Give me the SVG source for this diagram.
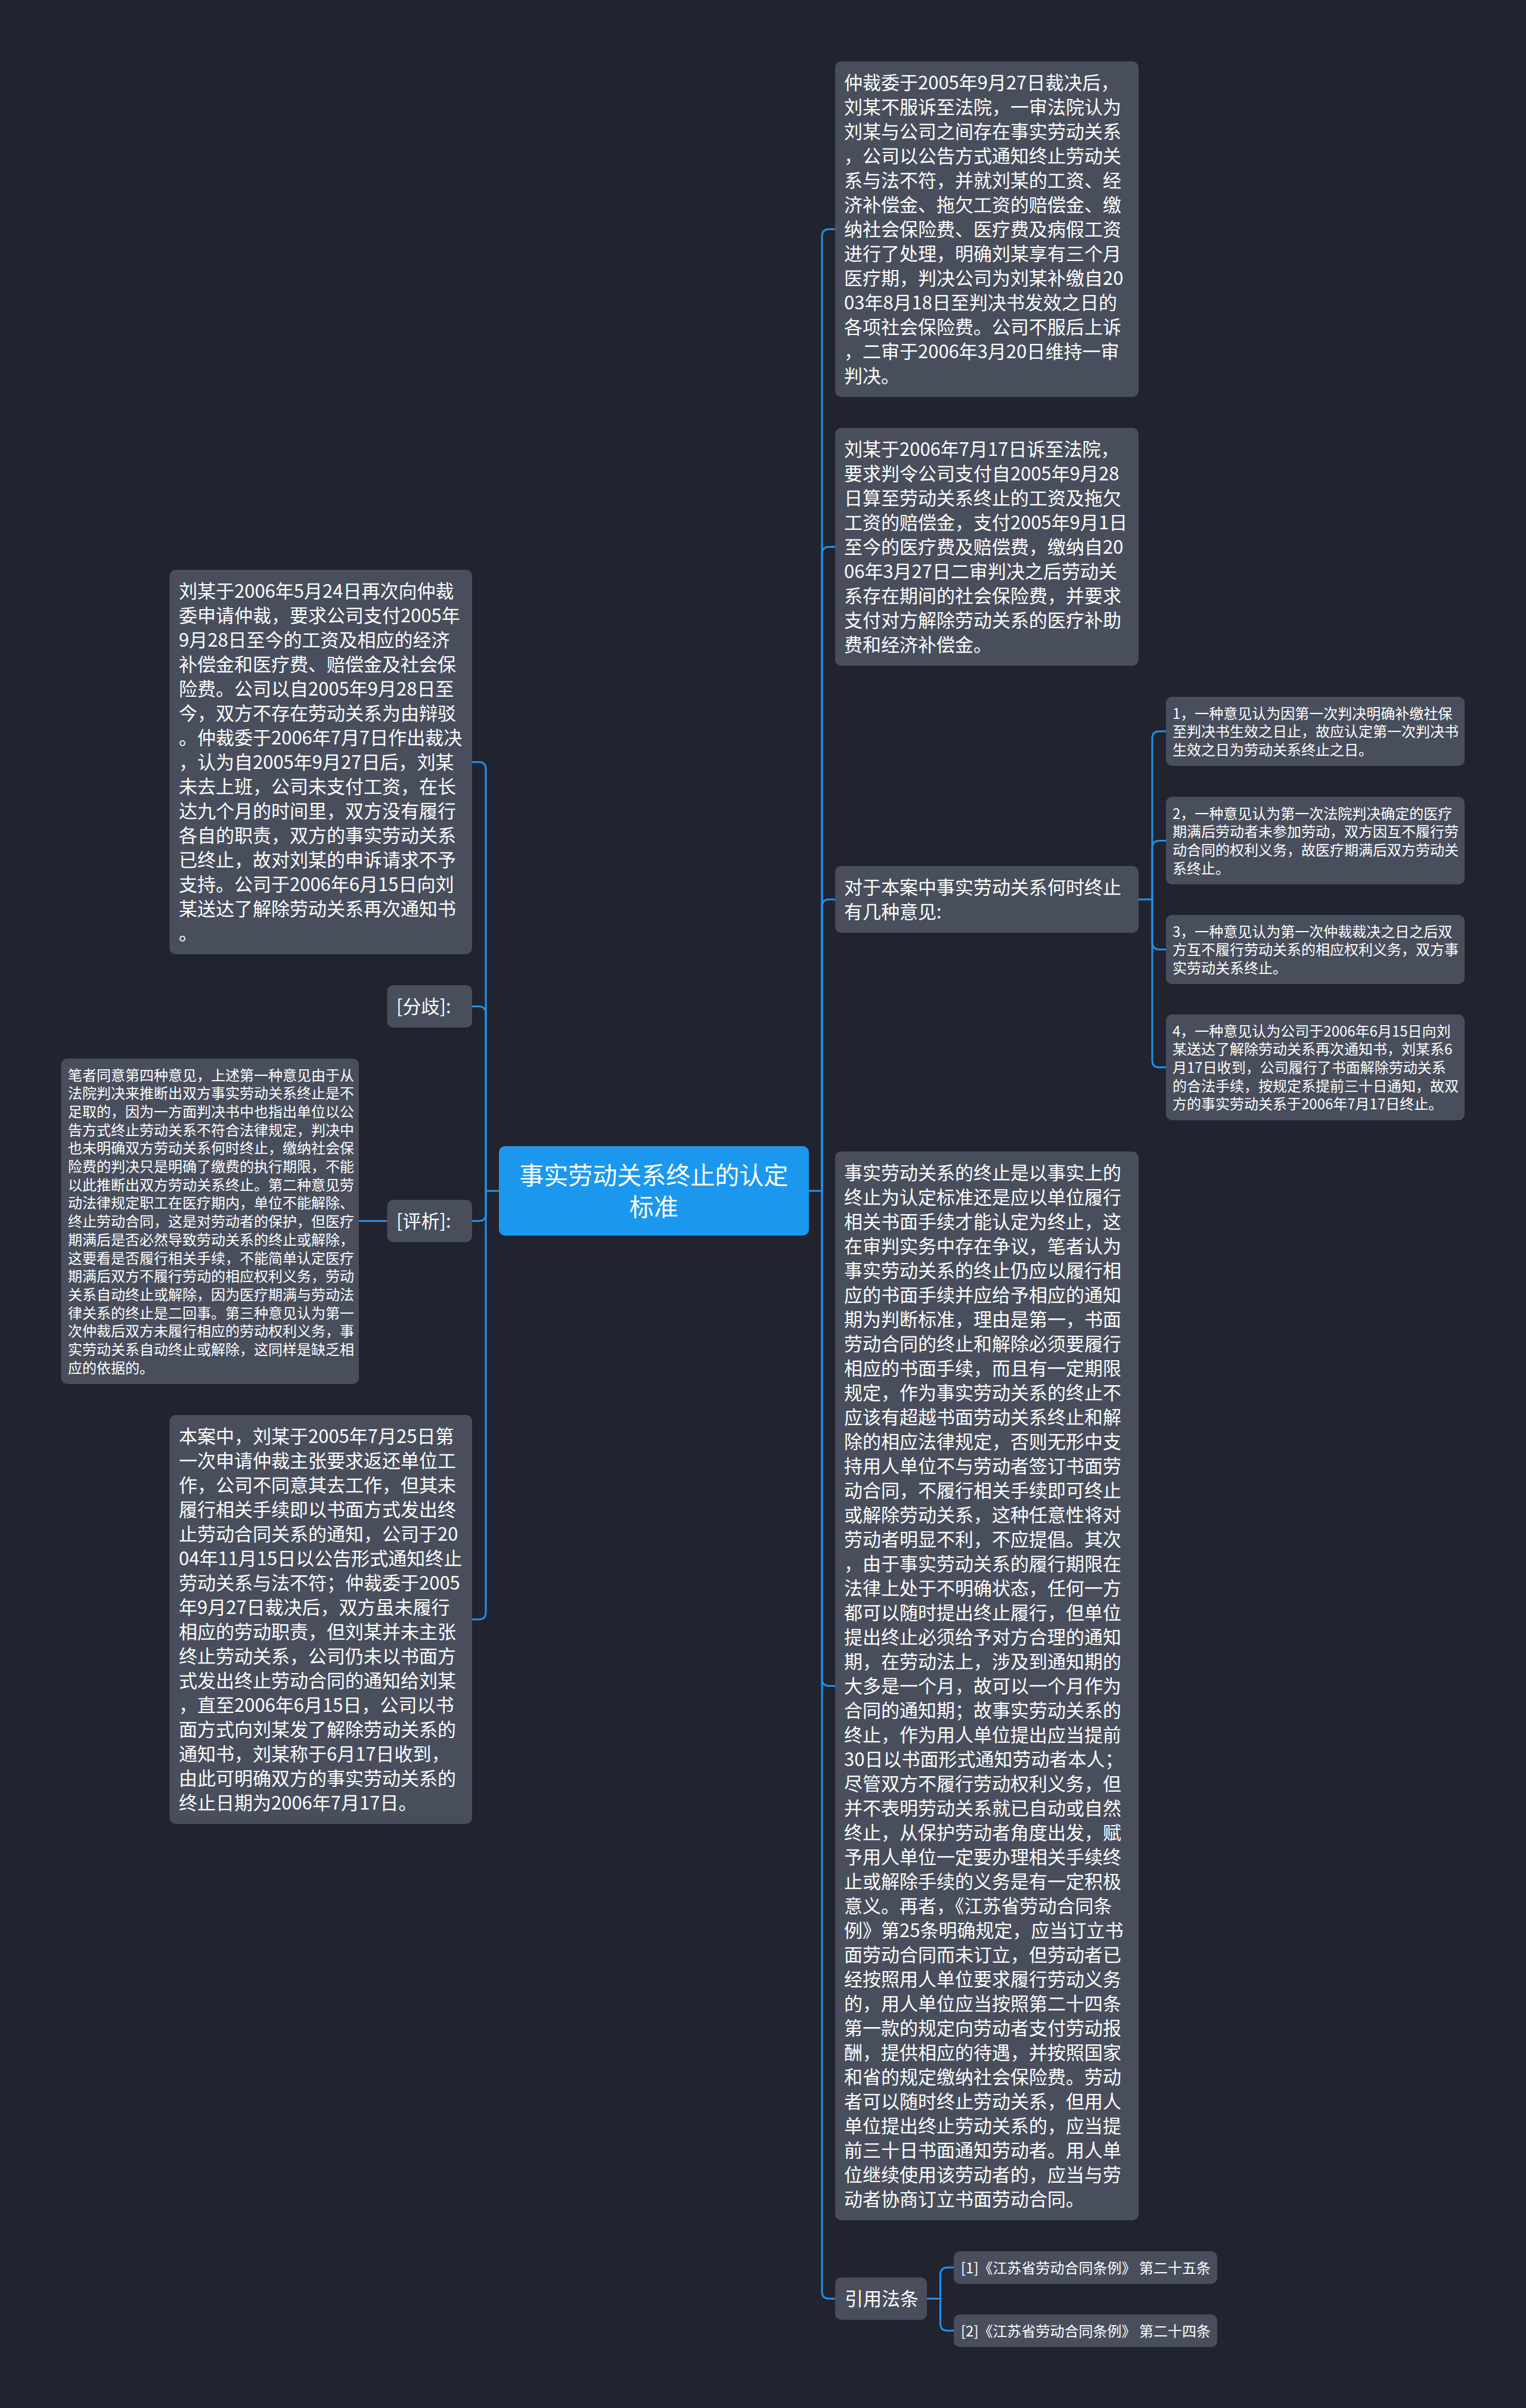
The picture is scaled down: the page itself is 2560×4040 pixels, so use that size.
<svg xmlns="http://www.w3.org/2000/svg" width="2560" height="4040" viewBox="0 0 2560 4040">
<style>
.n{fill:#484e5c}
.c{fill:#1b98ee}
.t{font-family:"Noto Sans CJK SC","Noto Sans",sans-serif;fill:#ffffff;font-size:31px}
.s{font-size:24px}
.m{font-size:41px;text-anchor:middle}
.l{fill:none;stroke:#2490e8;stroke-width:3;stroke-linecap:round}
</style>
<rect x="0" y="0" width="2560" height="4040" fill="#21242e"/>
<g id="connectors">
<path class="l" d="M1356 1998 H1379"/>
<path class="l" d="M1379 1998 V396.5 Q1379 384.5 1391 384.5 H1401"/>
<path class="l" d="M1379 1998 V929.5 Q1379 917.5 1391 917.5 H1401"/>
<path class="l" d="M1379 1998 V1521 Q1379 1509 1391 1509 H1401"/>
<path class="l" d="M1379 1998 V2816.5 Q1379 2828.5 1391 2828.5 H1401"/>
<path class="l" d="M1379 1998 V3844.5 Q1379 3856.5 1391 3856.5 H1401"/>
<path class="l" d="M837 1998 H815"/>
<path class="l" d="M815 1998 V1290.5 Q815 1278.5 803 1278.5 H792"/>
<path class="l" d="M815 1998 V1700.5 Q815 1688.5 803 1688.5 H792"/>
<path class="l" d="M815 1998 V2036.5 Q815 2048.5 803 2048.5 H792"/>
<path class="l" d="M815 1998 V2705 Q815 2717 803 2717 H792"/>
<path class="l" d="M649 2048.5 H602"/>
<path class="l" d="M1910 1509 H1933"/>
<path class="l" d="M1933 1509 V1239 Q1933 1227 1945 1227 H1956"/>
<path class="l" d="M1933 1509 V1422.4 Q1933 1410.4 1945 1410.4 H1956"/>
<path class="l" d="M1933 1509 V1581 Q1933 1593 1945 1593 H1956"/>
<path class="l" d="M1933 1509 V1778.8 Q1933 1790.8 1945 1790.8 H1956"/>
<path class="l" d="M1555 3856.5 H1577.5"/>
<path class="l" d="M1577.5 3856.5 V3816.3 Q1577.5 3804.3 1589.5 3804.3 H1600"/>
<path class="l" d="M1577.5 3856.5 V3898.3 Q1577.5 3910.3 1589.5 3910.3 H1600"/>
</g>
<g id="root">
<rect class="c" x="837" y="1923" width="520" height="150" rx="10"/>
<text class="t m"><tspan x="1096.7" y="1986.6">事实劳动关系终止的认定</tspan><tspan x="1096.7" y="2039.9">标准</tspan></text>
</g>
<g id="nodeA">
<rect class="n" x="1401" y="103" width="509" height="563" rx="10"/>
<text class="t"><tspan x="1416" y="150.3">仲裁委于2005年9月27日裁决后，</tspan><tspan x="1416" y="191.3">刘某不服诉至法院，一审法院认为</tspan><tspan x="1416" y="232.3">刘某与公司之间存在事实劳动关系</tspan><tspan x="1416" y="273.3">，公司以公告方式通知终止劳动关</tspan><tspan x="1416" y="314.3">系与法不符，并就刘某的工资、经</tspan><tspan x="1416" y="355.3">济补偿金、拖欠工资的赔偿金、缴</tspan><tspan x="1416" y="396.3">纳社会保险费、医疗费及病假工资</tspan><tspan x="1416" y="437.3">进行了处理，明确刘某享有三个月</tspan><tspan x="1416" y="478.3">医疗期，判决公司为刘某补缴自20</tspan><tspan x="1416" y="519.3">03年8月18日至判决书发效之日的</tspan><tspan x="1416" y="560.3">各项社会保险费。公司不服后上诉</tspan><tspan x="1416" y="601.3">，二审于2006年3月20日维持一审</tspan><tspan x="1416" y="642.3">判决。</tspan></text>
</g>
<g id="nodeB">
<rect class="n" x="1401" y="718" width="509" height="399" rx="10"/>
<text class="t"><tspan x="1416" y="765.3">刘某于2006年7月17日诉至法院，</tspan><tspan x="1416" y="806.3">要求判令公司支付自2005年9月28</tspan><tspan x="1416" y="847.3">日算至劳动关系终止的工资及拖欠</tspan><tspan x="1416" y="888.3">工资的赔偿金，支付2005年9月1日</tspan><tspan x="1416" y="929.3">至今的医疗费及赔偿费，缴纳自20</tspan><tspan x="1416" y="970.3">06年3月27日二审判决之后劳动关</tspan><tspan x="1416" y="1011.3">系存在期间的社会保险费，并要求</tspan><tspan x="1416" y="1052.3">支付对方解除劳动关系的医疗补助</tspan><tspan x="1416" y="1093.3">费和经济补偿金。</tspan></text>
</g>
<g id="nodeK">
<rect class="n" x="1401" y="1453" width="509" height="112" rx="10"/>
<text class="t"><tspan x="1416" y="1500.3">对于本案中事实劳动关系何时终止</tspan><tspan x="1416" y="1541.3">有几种意见:</tspan></text>
</g>
<g id="nodeD1">
<rect class="n" x="1956" y="1169" width="501" height="116" rx="10"/>
<text class="t s"><tspan x="1967" y="1205.5">1，一种意见认为因第一次判决明确补缴社保</tspan><tspan x="1967" y="1236.2">至判决书生效之日止，故应认定第一次判决书</tspan><tspan x="1967" y="1266.9">生效之日为劳动关系终止之日。</tspan></text>
</g>
<g id="nodeD2">
<rect class="n" x="1956" y="1337" width="501" height="146.8" rx="10"/>
<text class="t s"><tspan x="1967" y="1373.5">2，一种意见认为第一次法院判决确定的医疗</tspan><tspan x="1967" y="1404.2">期满后劳动者未参加劳动，双方因互不履行劳</tspan><tspan x="1967" y="1434.9">动合同的权利义务，故医疗期满后双方劳动关</tspan><tspan x="1967" y="1465.6">系终止。</tspan></text>
</g>
<g id="nodeD3">
<rect class="n" x="1956" y="1535" width="501" height="116" rx="10"/>
<text class="t s"><tspan x="1967" y="1571.5">3，一种意见认为第一次仲裁裁决之日之后双</tspan><tspan x="1967" y="1602.2">方互不履行劳动关系的相应权利义务，双方事</tspan><tspan x="1967" y="1632.9">实劳动关系终止。</tspan></text>
</g>
<g id="nodeD4">
<rect class="n" x="1956" y="1702" width="501" height="177.5" rx="10"/>
<text class="t s"><tspan x="1967" y="1738.5">4，一种意见认为公司于2006年6月15日向刘</tspan><tspan x="1967" y="1769.2">某送达了解除劳动关系再次通知书，刘某系6</tspan><tspan x="1967" y="1799.9">月17日收到，公司履行了书面解除劳动关系</tspan><tspan x="1967" y="1830.6">的合法手续，按规定系提前三十日通知，故双</tspan><tspan x="1967" y="1861.3">方的事实劳动关系于2006年7月17日终止。</tspan></text>
</g>
<g id="nodeJ">
<rect class="n" x="1401" y="1932" width="509" height="1793" rx="10"/>
<text class="t"><tspan x="1416" y="1979.3">事实劳动关系的终止是以事实上的</tspan><tspan x="1416" y="2020.3">终止为认定标准还是应以单位履行</tspan><tspan x="1416" y="2061.3">相关书面手续才能认定为终止，这</tspan><tspan x="1416" y="2102.3">在审判实务中存在争议，笔者认为</tspan><tspan x="1416" y="2143.3">事实劳动关系的终止仍应以履行相</tspan><tspan x="1416" y="2184.3">应的书面手续并应给予相应的通知</tspan><tspan x="1416" y="2225.3">期为判断标准，理由是第一，书面</tspan><tspan x="1416" y="2266.3">劳动合同的终止和解除必须要履行</tspan><tspan x="1416" y="2307.3">相应的书面手续，而且有一定期限</tspan><tspan x="1416" y="2348.3">规定，作为事实劳动关系的终止不</tspan><tspan x="1416" y="2389.3">应该有超越书面劳动关系终止和解</tspan><tspan x="1416" y="2430.3">除的相应法律规定，否则无形中支</tspan><tspan x="1416" y="2471.3">持用人单位不与劳动者签订书面劳</tspan><tspan x="1416" y="2512.3">动合同，不履行相关手续即可终止</tspan><tspan x="1416" y="2553.3">或解除劳动关系，这种任意性将对</tspan><tspan x="1416" y="2594.3">劳动者明显不利，不应提倡。其次</tspan><tspan x="1416" y="2635.3">，由于事实劳动关系的履行期限在</tspan><tspan x="1416" y="2676.3">法律上处于不明确状态，任何一方</tspan><tspan x="1416" y="2717.3">都可以随时提出终止履行，但单位</tspan><tspan x="1416" y="2758.3">提出终止必须给予对方合理的通知</tspan><tspan x="1416" y="2799.3">期，在劳动法上，涉及到通知期的</tspan><tspan x="1416" y="2840.3">大多是一个月，故可以一个月作为</tspan><tspan x="1416" y="2881.3">合同的通知期；故事实劳动关系的</tspan><tspan x="1416" y="2922.3">终止，作为用人单位提出应当提前</tspan><tspan x="1416" y="2963.3">30日以书面形式通知劳动者本人；</tspan><tspan x="1416" y="3004.3">尽管双方不履行劳动权利义务，但</tspan><tspan x="1416" y="3045.3">并不表明劳动关系就已自动或自然</tspan><tspan x="1416" y="3086.3">终止，从保护劳动者角度出发，赋</tspan><tspan x="1416" y="3127.3">予用人单位一定要办理相关手续终</tspan><tspan x="1416" y="3168.3">止或解除手续的义务是有一定积极</tspan><tspan x="1416" y="3209.3">意义。再者，《江苏省劳动合同条</tspan><tspan x="1416" y="3250.3">例》第25条明确规定，应当订立书</tspan><tspan x="1416" y="3291.3">面劳动合同而未订立，但劳动者已</tspan><tspan x="1416" y="3332.3">经按照用人单位要求履行劳动义务</tspan><tspan x="1416" y="3373.3">的，用人单位应当按照第二十四条</tspan><tspan x="1416" y="3414.3">第一款的规定向劳动者支付劳动报</tspan><tspan x="1416" y="3455.3">酬，提供相应的待遇，并按照国家</tspan><tspan x="1416" y="3496.3">和省的规定缴纳社会保险费。劳动</tspan><tspan x="1416" y="3537.3">者可以随时终止劳动关系，但用人</tspan><tspan x="1416" y="3578.3">单位提出终止劳动关系的，应当提</tspan><tspan x="1416" y="3619.3">前三十日书面通知劳动者。用人单</tspan><tspan x="1416" y="3660.3">位继续使用该劳动者的，应当与劳</tspan><tspan x="1416" y="3701.3">动者协商订立书面劳动合同。</tspan></text>
</g>
<g id="nodeL">
<rect class="n" x="1401" y="3821" width="154" height="71" rx="10"/>
<text class="t"><tspan x="1417" y="3868.3">引用法条</tspan></text>
</g>
<g id="nodeM1">
<rect class="n" x="1600" y="3777" width="442" height="54.7" rx="10"/>
<text class="t s"><tspan x="1612" y="3813.5">[1]《江苏省劳动合同条例》 第二十五条</tspan></text>
</g>
<g id="nodeM2">
<rect class="n" x="1600" y="3883" width="442" height="54.7" rx="10"/>
<text class="t s"><tspan x="1612" y="3919.5">[2]《江苏省劳动合同条例》 第二十四条</tspan></text>
</g>
<g id="nodeC">
<rect class="n" x="284.5" y="956" width="507.5" height="645" rx="10"/>
<text class="t"><tspan x="300" y="1003.3">刘某于2006年5月24日再次向仲裁</tspan><tspan x="300" y="1044.3">委申请仲裁，要求公司支付2005年</tspan><tspan x="300" y="1085.3">9月28日至今的工资及相应的经济</tspan><tspan x="300" y="1126.3">补偿金和医疗费、赔偿金及社会保</tspan><tspan x="300" y="1167.3">险费。公司以自2005年9月28日至</tspan><tspan x="300" y="1208.3">今，双方不存在劳动关系为由辩驳</tspan><tspan x="300" y="1249.3">。仲裁委于2006年7月7日作出裁决</tspan><tspan x="300" y="1290.3">，认为自2005年9月27日后，刘某</tspan><tspan x="300" y="1331.3">未去上班，公司未支付工资，在长</tspan><tspan x="300" y="1372.3">达九个月的时间里，双方没有履行</tspan><tspan x="300" y="1413.3">各自的职责，双方的事实劳动关系</tspan><tspan x="300" y="1454.3">已终止，故对刘某的申诉请求不予</tspan><tspan x="300" y="1495.3">支持。公司于2006年6月15日向刘</tspan><tspan x="300" y="1536.3">某送达了解除劳动关系再次通知书</tspan><tspan x="300" y="1577.3">。</tspan></text>
</g>
<g id="nodeG">
<rect class="n" x="649.5" y="1653" width="142.5" height="71" rx="10"/>
<text class="t"><tspan x="665" y="1700.3">[分歧]:</tspan></text>
</g>
<g id="nodeH">
<rect class="n" x="649.5" y="2013" width="142.5" height="71" rx="10"/>
<text class="t"><tspan x="665" y="2060.3">[评析]:</tspan></text>
</g>
<g id="nodeE">
<rect class="n" x="102.5" y="1776" width="499.5" height="546" rx="10"/>
<text class="t s"><tspan x="114" y="1812.5">笔者同意第四种意见，上述第一种意见由于从</tspan><tspan x="114" y="1843.2">法院判决来推断出双方事实劳动关系终止是不</tspan><tspan x="114" y="1873.9">足取的，因为一方面判决书中也指出单位以公</tspan><tspan x="114" y="1904.6">告方式终止劳动关系不符合法律规定，判决中</tspan><tspan x="114" y="1935.3">也未明确双方劳动关系何时终止，缴纳社会保</tspan><tspan x="114" y="1966">险费的判决只是明确了缴费的执行期限，不能</tspan><tspan x="114" y="1996.7">以此推断出双方劳动关系终止。第二种意见劳</tspan><tspan x="114" y="2027.4">动法律规定职工在医疗期内，单位不能解除、</tspan><tspan x="114" y="2058.1">终止劳动合同，这是对劳动者的保护，但医疗</tspan><tspan x="114" y="2088.8">期满后是否必然导致劳动关系的终止或解除，</tspan><tspan x="114" y="2119.5">这要看是否履行相关手续，不能简单认定医疗</tspan><tspan x="114" y="2150.2">期满后双方不履行劳动的相应权利义务，劳动</tspan><tspan x="114" y="2180.9">关系自动终止或解除，因为医疗期满与劳动法</tspan><tspan x="114" y="2211.6">律关系的终止是二回事。第三种意见认为第一</tspan><tspan x="114" y="2242.3">次仲裁后双方未履行相应的劳动权利义务，事</tspan><tspan x="114" y="2273">实劳动关系自动终止或解除，这同样是缺乏相</tspan><tspan x="114" y="2303.7">应的依据的。</tspan></text>
</g>
<g id="nodeI">
<rect class="n" x="284.5" y="2374" width="507.5" height="686" rx="10"/>
<text class="t"><tspan x="300" y="2421.3">本案中，刘某于2005年7月25日第</tspan><tspan x="300" y="2462.3">一次申请仲裁主张要求返还单位工</tspan><tspan x="300" y="2503.3">作，公司不同意其去工作，但其未</tspan><tspan x="300" y="2544.3">履行相关手续即以书面方式发出终</tspan><tspan x="300" y="2585.3">止劳动合同关系的通知，公司于20</tspan><tspan x="300" y="2626.3">04年11月15日以公告形式通知终止</tspan><tspan x="300" y="2667.3">劳动关系与法不符；仲裁委于2005</tspan><tspan x="300" y="2708.3">年9月27日裁决后，双方虽未履行</tspan><tspan x="300" y="2749.3">相应的劳动职责，但刘某并未主张</tspan><tspan x="300" y="2790.3">终止劳动关系，公司仍未以书面方</tspan><tspan x="300" y="2831.3">式发出终止劳动合同的通知给刘某</tspan><tspan x="300" y="2872.3">，直至2006年6月15日，公司以书</tspan><tspan x="300" y="2913.3">面方式向刘某发了解除劳动关系的</tspan><tspan x="300" y="2954.3">通知书，刘某称于6月17日收到，</tspan><tspan x="300" y="2995.3">由此可明确双方的事实劳动关系的</tspan><tspan x="300" y="3036.3">终止日期为2006年7月17日。</tspan></text>
</g>
</svg>
